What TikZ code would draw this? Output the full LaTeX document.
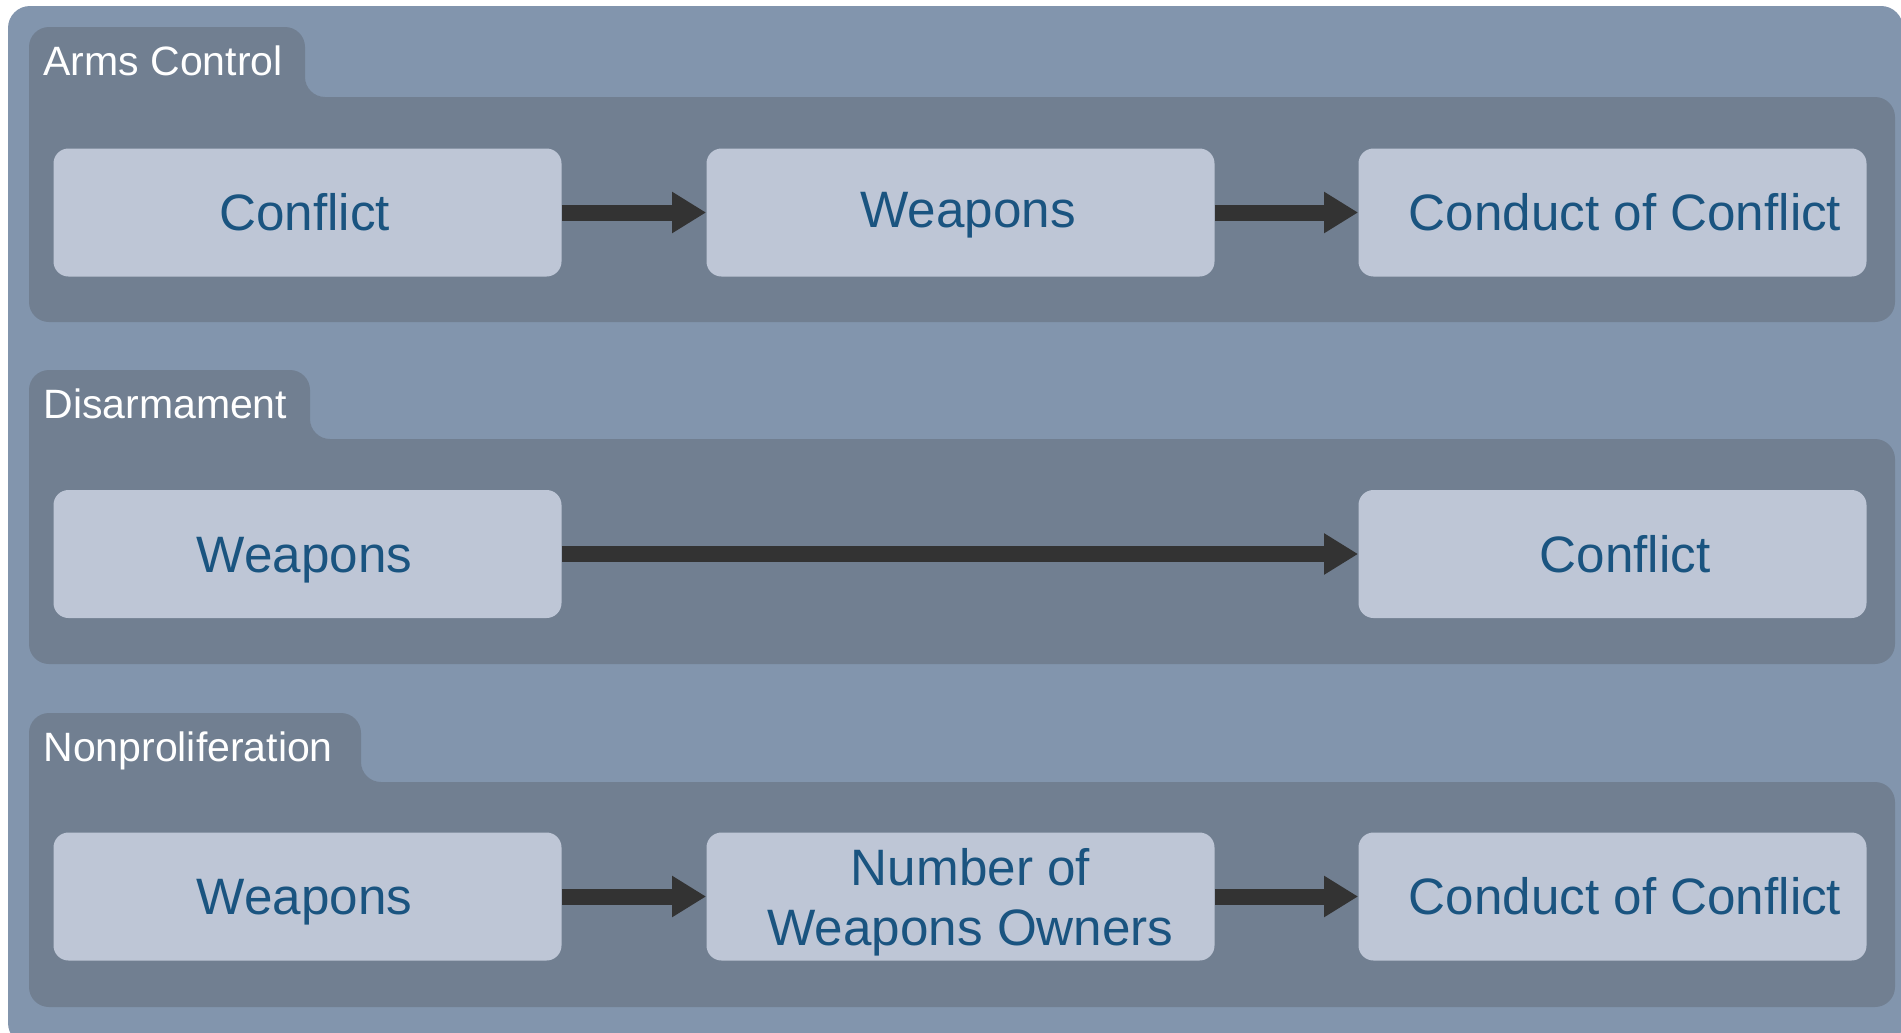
\documentclass[tikz,border=0pt]{standalone}
\usepackage{fontspec}
\setmainfont{Liberation Sans}
\usetikzlibrary{arrows.meta}
\definecolor{outerbg}{HTML}{8295AD}
\definecolor{panelbg}{HTML}{717F91}
\definecolor{boxbg}{HTML}{BEC6D6}
\definecolor{boxtext}{HTML}{1A5480}
\definecolor{arrowc}{HTML}{333333}
\begin{document}
\begin{tikzpicture}[x=0.5pt,y=-0.5pt,
  panel/.style={fill=panelbg, rounded corners=10pt},
  grouplabel/.style={text=white, font=\fontsize{20.5}{24}\selectfont, anchor=base west, inner sep=0pt},
  boxbase/.style={fill=boxbg, rounded corners=7.5pt, minimum width=254pt, minimum height=64pt,
    inner sep=0pt, text=boxtext, font=\fontsize{25.6}{30}\selectfont},
  stepbox/.style={boxbase, text height=18.3pt, text depth=0pt},
  lowtext/.style={text depth=3pt},
  colone/.style={execute at end node={\hspace*{3pt}}},
  coltwo/.style={execute at begin node={\hspace*{7.5pt}}},
  colthree/.style={execute at begin node={\hspace*{12.5pt}}},
  flow/.style={draw=arrowc, line width=8pt, -{Triangle[length=17pt,width=19.5pt]}}]
\useasboundingbox (0,0) rectangle (1901,1033);
\clip (0,0) rectangle (1901,1033);
\fill[outerbg, rounded corners=11pt] (8,6) rectangle (1903,1045);
% panels
\fill[panel] (29,322) -- (29,27) -- (305,27) -- (305,97) -- (1895,97) -- (1895,322) -- cycle;
\fill[panel] (29,664) -- (29,370) -- (310,370) -- (310,439) -- (1895,439) -- (1895,664) -- cycle;
\fill[panel] (29,1007) -- (29,713) -- (361,713) -- (361,782) -- (1895,782) -- (1895,1007) -- cycle;
\node[grouplabel] (l1) at (43,75) {Arms Control};
\node[grouplabel] (l2) at (43,418) {Disarmament};
\node[grouplabel] (l3) at (43,761) {Nonproliferation};
% row 1
\node[stepbox, colone] (a1) at (307.5,212.5) {Conflict};
\node[stepbox, coltwo, lowtext] (a2) at (960.5,212.5) {Weapons};
\node[stepbox, colthree] (a3) at (1612.5,212.5) {Conduct of Conflict};
\draw[flow] (a1.east) -- (a2.west);
\draw[flow] (a2.east) -- (a3.west);
% row 2
\node[stepbox, colone] (b1) at (307.5,554) {Weapons};
\node[stepbox, colthree] (b2) at (1612.5,554) {Conflict};
\draw[flow] (b1.east) -- (b2.west);
% row 3
\node[stepbox, colone] (c1) at (307.5,896.5) {Weapons};
\node[boxbase, align=center] (c2) at (960.5,896.5)
  {\rule{0pt}{24pt}\hspace*{10pt}Number of\\\hspace*{10pt}Weapons Owners};
\node[stepbox, colthree] (c3) at (1612.5,896.5) {Conduct of Conflict};
\draw[flow] (c1.east) -- (c2.west);
\draw[flow] (c2.east) -- (c3.west);
\end{tikzpicture}
\end{document}
